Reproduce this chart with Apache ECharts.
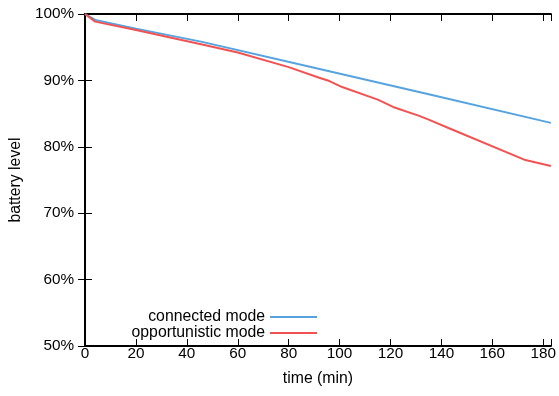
<!DOCTYPE html>
<html><head><meta charset="utf-8">
<script src="https://cdn.jsdelivr.net/npm/echarts@6/dist/echarts.min.js"></script>
<style>html,body{margin:0;padding:0;background:#fff}#c{width:559px;height:396px}</style>
</head><body><div id="c"></div>
<script>
var connectedX = [0, 4, 20, 46, 90, 135, 183];
var connectedY = [100, 99.1, 97.8, 95.8, 91.9, 87.9, 83.6];
var opportunisticX = [0, 4, 20, 46, 60, 80, 92, 96, 101, 115, 121, 131, 135, 143, 173, 183];
var opportunisticY = [100, 98.85, 97.6, 95.4, 94.2, 92.0, 90.4, 89.9, 89.0, 87.1, 86.0, 84.7, 84.1, 82.8, 78.0, 77.1];
var xTicks = [0, 20, 40, 60, 80, 100, 120, 140, 160, 180];
var yTicks = [50, 60, 70, 80, 90, 100];

function pairs(xs, ys){ return xs.map(function(x,i){return [x, ys[i]];}); }
var font = 'Liberation Sans, Arial, sans-serif';
var chart = echarts.init(document.getElementById('c'));
var axisLine = {show:true, lineStyle:{color:'#000', width:2}};
var legText = {fontFamily:font, fontSize:15.8, color:'#000'};
chart.setOption({
  animation:false,
  grid:{left:83, right:8, top:14, bottom:50},
  legend:[
    {data:['connected mode'], right:237, top:304, orient:'vertical', align:'right', icon:'rect', itemWidth:47, itemHeight:2, itemGap:4,
     textStyle:legText},
    {data:['opportunistic mode'], right:237, top:320, orient:'vertical', align:'right', icon:'rect', itemWidth:47, itemHeight:2, itemGap:4,
     textStyle:legText}
  ],
  xAxis:[
    {type:'value', min:0, max:183, interval:20, position:'bottom',
     name:'time (min)', nameLocation:'middle', nameGap:25,
     nameTextStyle:{fontFamily:font, fontSize:15.8, color:'#000'},
     axisLine:axisLine, axisTick:{show:true, inside:true, length:7, lineStyle:{color:'#000'}},
     axisLabel:{fontFamily:font, fontSize:15.3, color:'#000', margin:0,
       formatter:function(v){return xTicks.indexOf(v)>=0 ? String(v) : '';}},
     splitLine:{show:false}},
    {type:'value', min:0, max:183, interval:20, position:'top',
     axisLine:axisLine, axisTick:{show:true, inside:true, length:7, lineStyle:{color:'#000'}},
     axisLabel:{show:false}, splitLine:{show:false}}
  ],
  yAxis:[
    {type:'value', min:50, max:100, interval:10, position:'left',
     name:'battery level', nameLocation:'middle', nameGap:55, nameRotate:90,
     nameTextStyle:{fontFamily:font, fontSize:15.8, color:'#000'},
     axisLine:axisLine, axisTick:{show:true, inside:true, length:7, lineStyle:{color:'#000'}},
     axisLabel:{fontFamily:font, fontSize:15.3, color:'#000', margin:11,
       formatter:function(v){return yTicks.indexOf(v)>=0 ? v+'%' : '';}},
     splitLine:{show:false}},
    {type:'value', min:50, max:100, interval:10, position:'right',
     axisLine:axisLine, axisTick:{show:true, inside:true, length:7, lineStyle:{color:'#000'}},
     axisLabel:{show:false}, splitLine:{show:false}}
  ],
  series:[
    {name:'connected mode', type:'line', data:pairs(connectedX, connectedY), showSymbol:false, symbol:'none',
     lineStyle:{color:'#56a3e0', width:2}, itemStyle:{color:'#56a3e0'}},
    {name:'opportunistic mode', type:'line', data:pairs(opportunisticX, opportunisticY), showSymbol:false, symbol:'none',
     lineStyle:{color:'#f25252', width:2}, itemStyle:{color:'#f25252'}}
  ]
});
</script></body></html>
